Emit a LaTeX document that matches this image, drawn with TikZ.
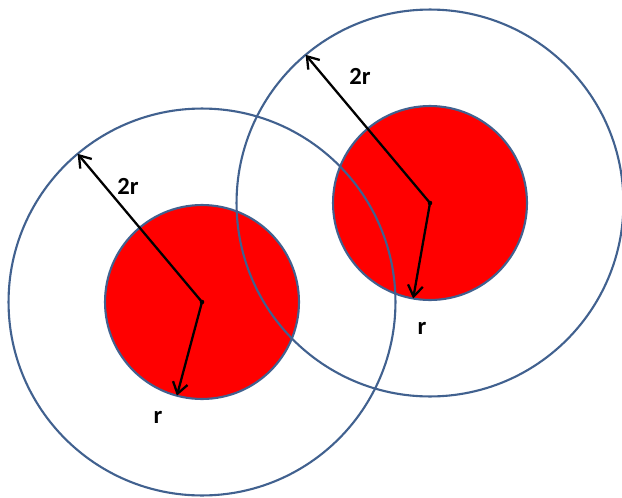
\documentclass[tikz,border=0pt]{standalone}
\usepackage{fontspec}
\setmainfont{Carlito}
\usetikzlibrary{arrows.meta}
\definecolor{rim}{HTML}{41618F}
\tikzset{
  core/.style={circle, draw=rim, line width=1.2pt, fill=red, outer sep=0pt,
    minimum size=3.88cm, inner sep=0pt},
  halo/.style={circle, draw=rim, line width=1.2pt, outer sep=0pt,
    minimum size=7.74cm, inner sep=0pt},
  radius/.style={-{Straight Barb[length=2.2mm,width=3mm]}, line width=1.3pt},
  lbl/.style={font=\fontsize{14}{16}\selectfont\bfseries}
}
\begin{document}
\begin{tikzpicture}[x=0.02cm, y=-0.02cm]
  \useasboundingbox (0,0) rectangle (622,497);

  % red discs
  \node[core] (lcore) at (202,302) {};
  \node[core] (rcore) at (430,203) {};

  % outer rings
  \node[halo] (lhalo) at (202,302) {};
  \node[halo] (rhalo) at (430,203) {};

  % left pair of radii
  \fill (lcore.center) circle (1.3pt);
  \draw[radius] (lcore.center) -- (lhalo.130);
  \draw[radius] (lcore.center) -- (lcore.255);
  \node[lbl] (l2r) at (128,186) {2r};
  \node[lbl] (lr) at (158,417) {r};

  % right pair of radii
  \fill (rcore.center) circle (1.3pt);
  \draw[radius] (rcore.center) -- (rhalo.130);
  \draw[radius] (rcore.center) -- (rcore.260);
  \node[lbl] (r2r) at (360,76) {2r};
  \node[lbl] (rr) at (422,328) {r};
\end{tikzpicture}
\end{document}
